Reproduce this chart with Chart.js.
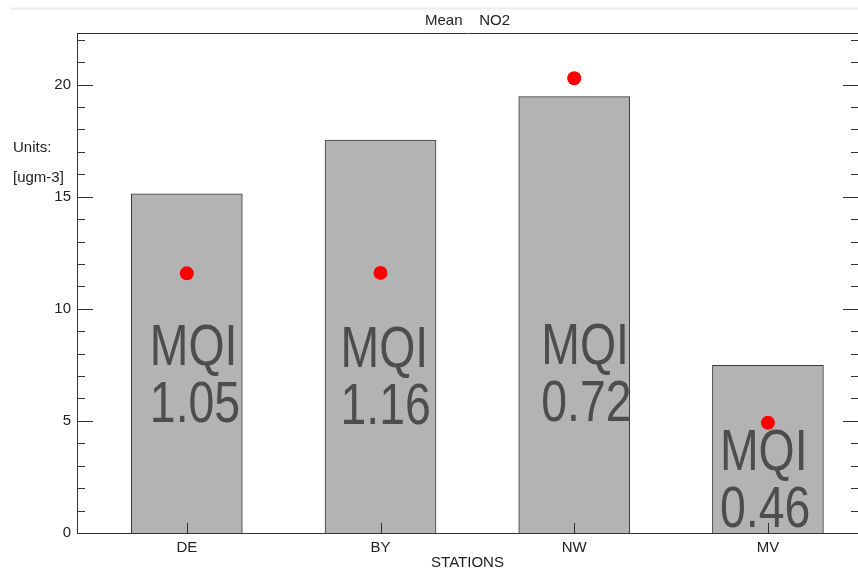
<!DOCTYPE html>
<html>
<head>
<meta charset="utf-8">
<title>Mean NO2</title>
<script src="https://cdn.jsdelivr.net/npm/chart.js@4.4.1/dist/chart.umd.min.js"></script>
<style>
  html, body { margin: 0; padding: 0; background: #ffffff; overflow: hidden; }
  canvas { display: block; }
</style>
</head>
<body>
<canvas id="chart" width="858" height="570"></canvas>
<script>
// Station categories and measured values
const stations = ['DE', 'BY', 'NW', 'MV'];
const meanValues = [15.13, 17.52, 19.46, 7.48];   // bars
const pointValues = [11.58, 11.6, 20.28, 4.92];   // red markers
const mqiValues = [1.05, 1.16, 0.72, 0.46];       // MQI labels inside bars
const yTickValues = [0, 5, 10, 15, 20];

const FONT = "'Liberation Sans', Arial, sans-serif";
const INK = '#222222';

// Inward tick marks, frame top line, unit caption and MQI labels
const decorations = {
  id: 'decorations',
  afterDatasetsDraw(chart, args, opts) {
    const { ctx, scales: { x } } = chart;
    ctx.save();
    // MQI labels, condensed horizontally
    ctx.fillStyle = '#4d4d4d';
    ctx.font = '58px ' + FONT;
    ctx.textAlign = 'left';
    ctx.textBaseline = 'alphabetic';
    stations.forEach((s, i) => {
      const px = x.getPixelForValue(i) + opts.labelDx[i];
      const py = opts.labelBaseline[i];
      ['MQI', mqiValues[i].toFixed(2)].forEach((t, k) => {
        ctx.save();
        ctx.translate(px, py + k * 57);
        ctx.scale(0.8, 1);
        ctx.fillText(t, 0, 0);
        ctx.restore();
      });
    });
    ctx.restore();
  },
  afterDraw(chart) {
    const { ctx, chartArea: a, scales: { x, y } } = chart;
    ctx.save();
    // faint rule along the top of the figure
    ctx.strokeStyle = '#ededed';
    ctx.lineWidth = 2;
    ctx.beginPath();
    ctx.moveTo(10, 8.5);
    ctx.lineTo(858, 8.5);
    ctx.stroke();

    ctx.strokeStyle = '#333333';
    ctx.lineWidth = 1;
    ctx.beginPath();
    // top frame
    ctx.moveTo(a.left, Math.round(a.top) + 0.5);
    ctx.lineTo(a.right, Math.round(a.top) + 0.5);
    // y ticks on both sides, major every 5, minor every 1
    for (let v = 0; v <= Math.floor(y.max); v++) {
      const py = Math.round(y.getPixelForValue(v)) + 0.5;
      const major = v % 5 === 0;
      ctx.moveTo(a.left, py);
      ctx.lineTo(a.left + (major ? 16 : 8), py);
      ctx.moveTo(a.right, py);
      ctx.lineTo(a.right - (major ? 15 : 7), py);
    }
    // x ticks at each station
    stations.forEach((s, i) => {
      const px = Math.round(x.getPixelForValue(i)) + 0.5;
      ctx.moveTo(px, a.bottom);
      ctx.lineTo(px, a.bottom - 10);
    });
    ctx.stroke();

    // unit caption
    ctx.fillStyle = INK;
    ctx.font = '15px ' + FONT;
    ctx.textAlign = 'left';
    ctx.textBaseline = 'alphabetic';
    ctx.fillText('Units:', 13, 152);
    ctx.fillText('[ugm-3]', 13, 182);
    ctx.restore();
  }
};

new Chart(document.getElementById('chart'), {
  type: 'bar',
  data: {
    datasets: [
      {
        type: 'scatter',
        data: stations.map((s, i) => ({ x: i, y: pointValues[i] })),
        backgroundColor: '#ff0000',
        borderWidth: 0,
        pointRadius: 7,
        order: 0
      },
      {
        type: 'bar',
        data: stations.map((s, i) => ({ x: i, y: meanValues[i] })),
        backgroundColor: '#b3b3b3',
        borderColor: '#3a3a3a',
        borderWidth: 1,
        barThickness: 111,
        order: 1
      }
    ]
  },
  options: {
    responsive: false,
    animation: false,
    devicePixelRatio: 1,
    layout: { padding: 0, autoPadding: false },
    plugins: {
      legend: { display: false },
      tooltip: { enabled: false },
      title: {
        display: true,
        fullSize: false,
        text: 'Mean    NO2',
        color: INK,
        font: { family: FONT, size: 15, weight: 'normal' },
        padding: { top: 12, bottom: 3 }
      },
      decorations: {
        labelDx: [-37, -40, -33, -48],
        labelBaseline: [365, 367, 364, 470]
      }
    },
    scales: {
      x: {
        type: 'linear',
        min: -0.567,
        max: 3.465,
        offset: false,
        grid: { display: false, drawTicks: false, offset: false },
        border: { display: true, color: '#333333', width: 1 },
        ticks: {
          stepSize: 1,
          includeBounds: false,
          autoSkip: false,
          maxRotation: 0,
          padding: 6,
          color: INK,
          font: { family: FONT, size: 15 },
          callback: (v) => (Number.isInteger(v) && stations[v] !== undefined ? stations[v] : '')
        },
        title: {
          display: true,
          text: 'STATIONS',
          color: INK,
          font: { family: FONT, size: 15, lineHeight: 1 },
          padding: { top: 0, bottom: 0 }
        },
        afterFit: (s) => { s.height = 37; }
      },
      y: {
        type: 'linear',
        min: 0,
        max: 22.3,
        grid: { display: false, drawTicks: false },
        border: { display: true, color: '#333333', width: 1 },
        ticks: {
          stepSize: 5,
          includeBounds: false,
          padding: 6,
          color: INK,
          font: { family: FONT, size: 15 },
          callback: (v) => (yTickValues.includes(v) ? String(v) : '')
        },
        afterFit: (s) => { s.width = 77; }
      }
    }
  },
  plugins: [decorations]
});
</script>
</body>
</html>
